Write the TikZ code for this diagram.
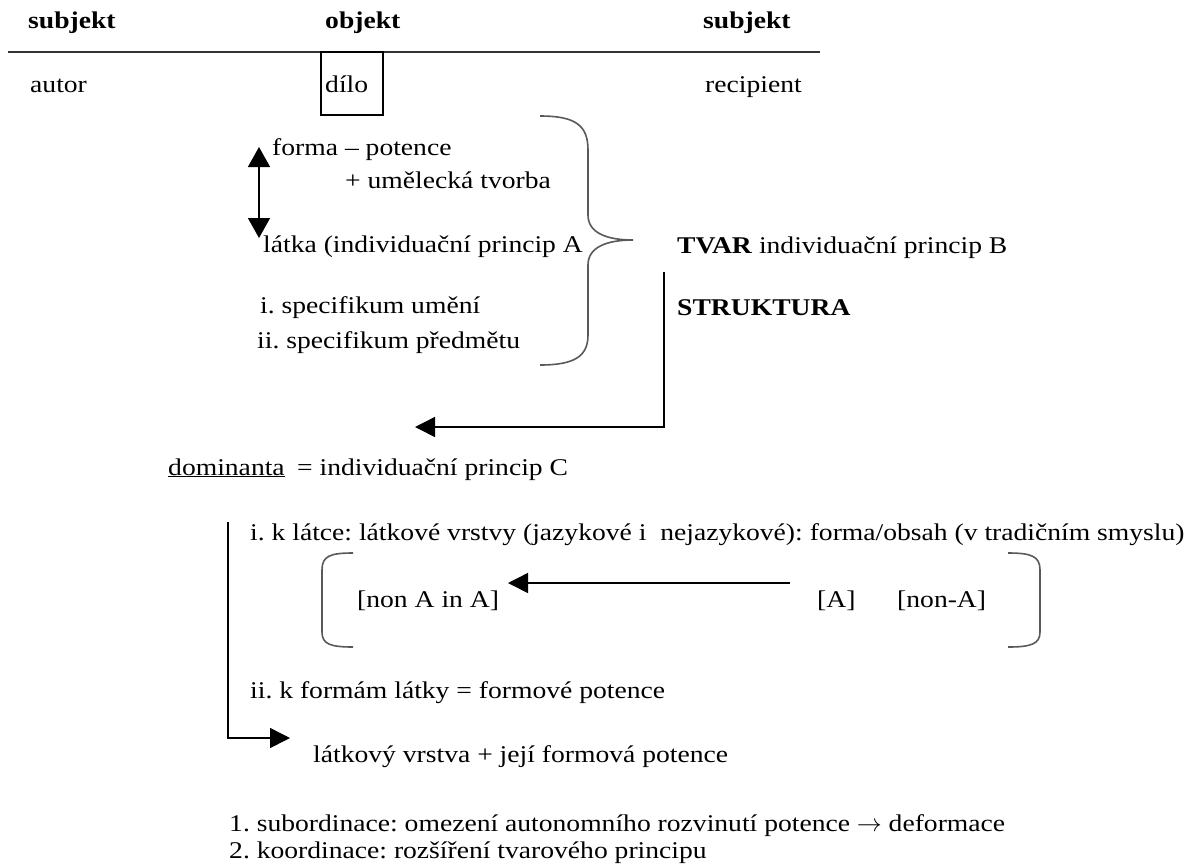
\documentclass[tikz,border=0pt]{standalone}
\usepackage{fontspec}
\setmainfont{Liberation Serif}[FakeStretch=1.15]
\usetikzlibrary{arrows.meta}
\frenchspacing
\begin{document}
\begin{tikzpicture}[x=1pt,y=-1pt,
  txt/.style={anchor=base west,inner sep=0pt,font=\fontsize{24}{29}\selectfont},
  hd/.style={anchor=base west,inner sep=0pt,font=\fontsize{24}{29}\selectfont\bfseries},
  conn/.style={line width=1.5pt,-{Triangle[length=20pt,width=20pt]}},
  dconn/.style={line width=1.5pt,{Triangle[length=20pt,width=22pt]}-{Triangle[length=20pt,width=22pt]}},
  brk/.style={line width=1.6pt,draw=black!65},
  rule/.style={line width=1.6pt,draw=black!80},
  box/.style={line width=1.3pt,draw=black}]
\useasboundingbox (0,0) rectangle (1201,863);
% header
\node[hd] (s1) at (28,28) {subjekt};
\node[hd] (ob) at (325,28) {objekt};
\node[hd] (s2) at (703,28) {subjekt};
\coordinate (rl) at (8,52);
\coordinate (rr) at (820,52);
\draw[rule] (rl) -- (rr);
\node[txt] (autor) at (30,92) {autor};
\draw[box] (321,52) rectangle (383,115);
\node[txt] (dilo) at (325,92) {dílo};
\node[txt] (recip) at (705,92) {recipient};
% forma / latka
\node[txt] (forma) at (272,155) {forma – potence};
\node[txt] (umel) at (345,188) {+ umělecká tvorba};
\node[txt] (latka) at (263,252) {látka (individuační princip A};
\node[txt] (spec1) at (260,313) {i. specifikum umění};
\node[txt] (spec2) at (257,348) {ii. specifikum předmětu};
\coordinate (da) at (259,147);
\coordinate (db) at (259,238);
\draw[dconn] (da) -- (db);
% brace
\draw[brk] (540,116) .. controls (575,116) and (588,125) .. (588,150)
  -- (588,215) .. controls (588,232) and (605,240) .. (633,240)
  .. controls (605,240) and (588,248) .. (588,265)
  -- (588,335) .. controls (588,356) and (575,365) .. (540,365);
\node[txt] (tvar) at (677,253) {\textbf{TVAR} individuační princip B};
\node[hd] (strukt) at (677,315) {STRUKTURA};
\coordinate (a1) at (664,272);
\coordinate (a2) at (664,427);
\coordinate (a3) at (415,427);
\draw[conn] (a1) -- (a2) -- (a3);
% dominanta
\node[txt] (dom) at (168,475) {\underline{dominanta}};
\node[txt] (domr) at (297,475) {= individuační princip C};
\node[txt] (ik) at (250,540) {i. k látce: látkové vrstvy (jazykové i~ nejazykové): forma/obsah (v tradičním smyslu)};
\draw[brk] (353,553) .. controls (330,553) and (322,556) .. (322,570) -- (322,632) .. controls (322,644) and (330,647) .. (353,647);
\draw[brk] (1008,553) .. controls (1031,553) and (1040,556) .. (1040,570) -- (1040,632) .. controls (1040,644) and (1031,647) .. (1008,647);
\node[txt] (nonAinA) at (357,607) {[non A in A]};
\node[txt] (A) at (817,607) {[A]};
\node[txt] (nonA) at (897,607) {[non-A]};
\coordinate (b1) at (790,583);
\coordinate (b2) at (508,583);
\draw[conn] (b1) -- (b2);
\node[txt] (iik) at (250,698) {ii. k formám látky = formové potence};
\coordinate (c1) at (228,522);
\coordinate (c2) at (228,738);
\coordinate (c3) at (290,738);
\draw[conn] (c1) -- (c2) -- (c3);
\node[txt] (lv) at (313,762) {látkový vrstva + její formová potence};
\node[txt] (sub) at (229,831) {1. subordinace: omezení autonomního rozvinutí potence $\rightarrow$ deformace};
\node[txt] (koo) at (229,858) {2. koordinace: rozšíření tvarového principu};
\end{tikzpicture}
\end{document}
